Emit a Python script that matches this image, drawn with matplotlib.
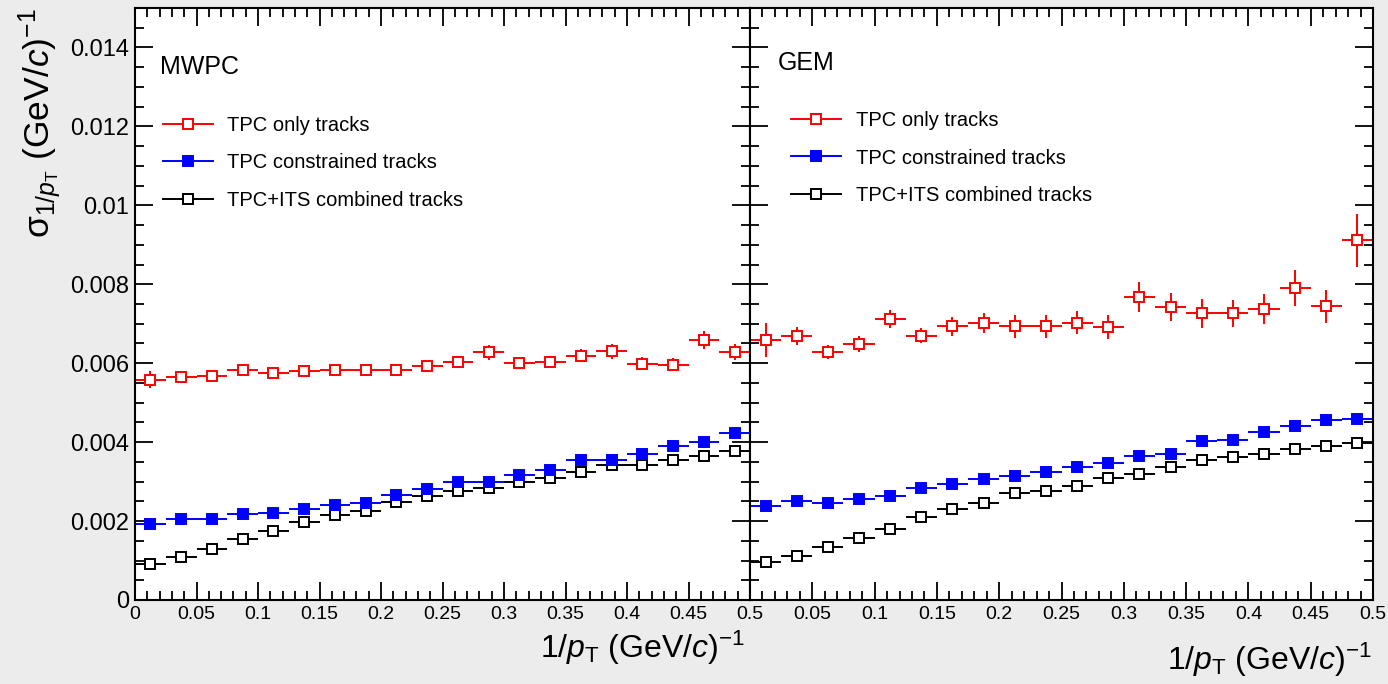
import matplotlib.pyplot as plt
from matplotlib.ticker import MultipleLocator, FuncFormatter
from matplotlib.lines import Line2D

plt.rcParams['font.family'] = 'Liberation Sans'
plt.rcParams['mathtext.fontset'] = 'custom'
plt.rcParams['mathtext.rm'] = 'Liberation Sans'
plt.rcParams['mathtext.it'] = 'Liberation Sans:italic'
plt.rcParams['mathtext.bf'] = 'Liberation Sans:bold'

# bin centres of 1/pT, bins of 0.025 from 0 to 0.5
bin_centers = [0.0125, 0.0375, 0.0625, 0.0875, 0.1125, 0.1375, 0.1625, 0.1875,
               0.2125, 0.2375, 0.2625, 0.2875, 0.3125, 0.3375, 0.3625, 0.3875,
               0.4125, 0.4375, 0.4625, 0.4875]
bin_half_width = 0.0125

# MWPC
mwpc_tpc_only = [0.00558, 0.00564, 0.00568, 0.00583, 0.00575, 0.00579, 0.00583, 0.00583,
                 0.00583, 0.00593, 0.00603, 0.00628, 0.00600, 0.00604, 0.00619, 0.00630,
                 0.00599, 0.00596, 0.00659, 0.00628]
mwpc_tpc_only_err = [0.00022, 0.00010, 0.00010, 0.00012, 0.00012, 0.00012, 0.00012, 0.00012,
                     0.00012, 0.00013, 0.00014, 0.00019, 0.00015, 0.00015, 0.00016, 0.00019,
                     0.00016, 0.00016, 0.00022, 0.00020]
mwpc_constrained = [0.00193, 0.00205, 0.00205, 0.00217, 0.00221, 0.00231, 0.00241, 0.00247,
                    0.00266, 0.00281, 0.00300, 0.00300, 0.00317, 0.00330, 0.00355, 0.00355,
                    0.00370, 0.00391, 0.00400, 0.00424]
mwpc_combined = [0.00091, 0.00110, 0.00130, 0.00154, 0.00176, 0.00197, 0.00216, 0.00226,
                 0.00248, 0.00264, 0.00277, 0.00283, 0.00298, 0.00309, 0.00324, 0.00341,
                 0.00341, 0.00355, 0.00365, 0.00378]

# GEM
gem_tpc_only = [0.00658, 0.00668, 0.00628, 0.00649, 0.00712, 0.00670, 0.00693, 0.00702,
                0.00693, 0.00693, 0.00703, 0.00691, 0.00767, 0.00742, 0.00726, 0.00726,
                0.00737, 0.00791, 0.00744, 0.00911]
gem_tpc_only_err = [0.00043, 0.00023, 0.00018, 0.00020, 0.00023, 0.00020, 0.00023, 0.00025,
                    0.00028, 0.00030, 0.00030, 0.00030, 0.00038, 0.00036, 0.00036, 0.00034,
                    0.00038, 0.00046, 0.00041, 0.00068]
gem_constrained = [0.00237, 0.00251, 0.00245, 0.00255, 0.00264, 0.00285, 0.00294, 0.00306,
                   0.00314, 0.00325, 0.00336, 0.00347, 0.00365, 0.00369, 0.00402, 0.00406,
                   0.00425, 0.00440, 0.00455, 0.00459]
gem_combined = [0.00097, 0.00112, 0.00135, 0.00156, 0.00180, 0.00210, 0.00230, 0.00245,
                0.00271, 0.00275, 0.00290, 0.00310, 0.00319, 0.00336, 0.00355, 0.00363,
                0.00370, 0.00382, 0.00391, 0.00399]

small_err = 0.00004

labels = ['TPC only tracks', 'TPC constrained tracks', 'TPC+ITS combined tracks']
colors = ['#ff0000', '#0000ff', 'black']
faces = ['white', '#0000ff', 'white']

W, H = 1388, 684
fig = plt.figure(figsize=(W / 100, H / 100), dpi=100)
fig.patch.set_facecolor('#ececec')

ax_left = fig.add_axes([135 / W, 1 - 600 / H, 615 / W, 592 / H])
ax_right = fig.add_axes([750 / W, 1 - 600 / H, 623 / W, 592 / H])

fmt = FuncFormatter(lambda v, p: '%g' % round(v, 4))


def draw_panel(ax, only, only_err, constrained, combined, name, name_xy, leg_xy):
    series = [(combined, [small_err] * len(combined), 2),
              (constrained, [small_err] * len(constrained), 1),
              (only, only_err, 0)]
    for y, err, i in series:
        ax.errorbar(bin_centers, y, xerr=bin_half_width, yerr=err, fmt='s',
                    color=colors[i], mfc=faces[i], mec=colors[i], ms=7.5, mew=1.4,
                    elinewidth=1.4, capsize=0)
    ax.set_xlim(0, 0.5)
    ax.set_ylim(0, 0.015)
    ax.xaxis.set_major_locator(MultipleLocator(0.05))
    ax.xaxis.set_minor_locator(MultipleLocator(0.01))
    ax.yaxis.set_major_locator(MultipleLocator(0.002))
    ax.yaxis.set_minor_locator(MultipleLocator(0.0005))
    ax.xaxis.set_major_formatter(fmt)
    ax.yaxis.set_major_formatter(fmt)
    ax.tick_params(which='both', direction='in', top=True, right=True, width=1.3)
    ax.tick_params(which='major', length=13, pad=4)
    ax.tick_params(axis='x', which='major', labelsize=14)
    ax.tick_params(axis='y', which='major', labelsize=17)
    ax.tick_params(which='minor', length=6.5)
    for s in ax.spines.values():
        s.set_linewidth(1.5)
    ax.text(name_xy[0], name_xy[1], name, transform=ax.transAxes, fontsize=18,
            ha='left', va='center')
    handles = [Line2D([0], [0], color=colors[i], marker='s', mfc=faces[i], mec=colors[i],
                      ms=7.5, mew=1.4, lw=1.4) for i in range(3)]
    ax.legend(handles, labels, loc='upper left', bbox_to_anchor=leg_xy, frameon=False,
              fontsize=14.5, handlelength=2.5, handletextpad=0.7, labelspacing=0.92,
              borderaxespad=0, borderpad=0)


draw_panel(ax_left, mwpc_tpc_only, mwpc_tpc_only_err, mwpc_constrained, mwpc_combined,
           'MWPC', (0.041, 0.9), (0.045, 0.818))
draw_panel(ax_right, gem_tpc_only, gem_tpc_only_err, gem_constrained, gem_combined,
           'GEM', (0.045, 0.907), (0.066, 0.826))
ax_right.tick_params(labelleft=False)
ax_right.xaxis.set_major_formatter(FuncFormatter(lambda v, p: '' if v < 1e-9 else '%g' % round(v, 4)))

xlabel = r'1/$p_{\mathrm{T}}$ (GeV/$c$)$^{-1}$'
fig.text(745 / W, 1 - 648 / H, xlabel, ha='right', va='center', fontsize=23)
fig.text(1372 / W, 1 - 660 / H, xlabel, ha='right', va='center', fontsize=23)
fig.text(40 / W, 1 - 8 / H, r'σ$_{1/p_{\mathrm{T}}}$ (GeV/$c$)$^{-1}$',
         rotation=90, ha='center', va='top', fontsize=25.5)

fig.savefig('out.png', dpi=100, facecolor=fig.get_facecolor())
